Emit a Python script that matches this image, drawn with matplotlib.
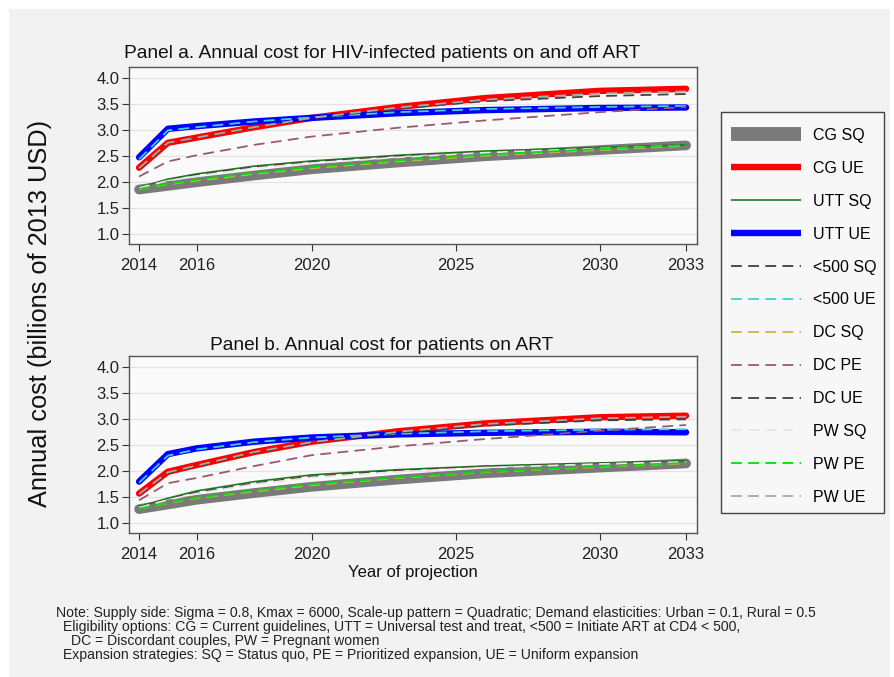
import matplotlib
matplotlib.use("Agg")
import matplotlib.pyplot as plt
from matplotlib.patches import Rectangle
from matplotlib.lines import Line2D

plt.rcParams['font.family'] = ['Liberation Sans', 'DejaVu Sans']

years = [2014, 2015, 2016, 2018, 2020, 2023, 2026, 2030, 2033]
series_names = ["CG SQ", "CG UE", "UTT SQ", "UTT UE", "<500 SQ", "<500 UE",
                "DC SQ", "DC PE", "DC UE", "PW SQ", "PW PE", "PW UE"]

# Panel a: annual cost for HIV-infected patients on and off ART (billions 2013 USD)
panel_a = {
    "CG SQ":   [1.86, 1.93, 2.00, 2.13, 2.25, 2.38, 2.50, 2.62, 2.71],
    "CG UE":   [2.28, 2.76, 2.86, 3.06, 3.24, 3.45, 3.62, 3.76, 3.80],
    "UTT SQ":  [1.90, 2.06, 2.16, 2.31, 2.41, 2.52, 2.60, 2.67, 2.72],
    "UTT UE":  [2.48, 3.03, 3.08, 3.17, 3.24, 3.33, 3.39, 3.43, 3.44],
    "<500 SQ": [1.89, 2.04, 2.14, 2.29, 2.39, 2.50, 2.58, 2.66, 2.71],
    "<500 UE": [2.44, 3.00, 3.06, 3.17, 3.25, 3.35, 3.41, 3.45, 3.47],
    "DC SQ":   [1.87, 1.96, 2.03, 2.16, 2.27, 2.40, 2.51, 2.62, 2.70],
    "DC PE":   [2.11, 2.40, 2.52, 2.72, 2.88, 3.05, 3.19, 3.35, 3.45],
    "DC UE":   [2.25, 2.75, 2.86, 3.06, 3.23, 3.42, 3.56, 3.66, 3.70],
    "PW SQ":   [1.89, 2.03, 2.12, 2.27, 2.37, 2.48, 2.57, 2.65, 2.71],
    "PW PE":   [1.87, 1.97, 2.05, 2.18, 2.29, 2.42, 2.53, 2.64, 2.71],
    "PW UE":   [2.27, 2.76, 2.86, 3.06, 3.24, 3.44, 3.59, 3.71, 3.75],
}

# Panel b: annual cost for patients on ART
panel_b = {
    "CG SQ":   [1.27, 1.36, 1.45, 1.58, 1.70, 1.84, 1.96, 2.07, 2.15],
    "CG UE":   [1.57, 1.99, 2.12, 2.37, 2.57, 2.77, 2.92, 3.04, 3.07],
    "UTT SQ":  [1.32, 1.48, 1.62, 1.80, 1.93, 2.03, 2.10, 2.16, 2.20],
    "UTT UE":  [1.80, 2.33, 2.44, 2.57, 2.65, 2.71, 2.74, 2.76, 2.75],
    "<500 SQ": [1.31, 1.46, 1.59, 1.77, 1.90, 2.01, 2.09, 2.15, 2.19],
    "<500 UE": [1.78, 2.30, 2.42, 2.56, 2.65, 2.72, 2.77, 2.80, 2.81],
    "DC SQ":   [1.28, 1.38, 1.48, 1.61, 1.73, 1.87, 1.98, 2.08, 2.15],
    "DC PE":   [1.44, 1.77, 1.87, 2.10, 2.31, 2.48, 2.62, 2.78, 2.89],
    "DC UE":   [1.55, 1.97, 2.10, 2.36, 2.55, 2.74, 2.88, 2.98, 3.00],
    "PW SQ":   [1.30, 1.45, 1.57, 1.75, 1.88, 1.99, 2.07, 2.14, 2.18],
    "PW PE":   [1.28, 1.39, 1.49, 1.63, 1.75, 1.88, 1.99, 2.09, 2.16],
    "PW UE":   [1.56, 1.98, 2.11, 2.37, 2.56, 2.76, 2.91, 3.02, 3.05],
}

x_ticks = [2014, 2016, 2020, 2025, 2030, 2033]
y_ticks = [1.0, 1.5, 2.0, 2.5, 3.0, 3.5, 4.0]

dash = (0, (6, 3.5))
styles = {
    "CG SQ":   dict(color="#7a7a7a", lw=7.0, ls="-"),
    "CG UE":   dict(color="#ff0000", lw=4.6, ls="-"),
    "UTT SQ":  dict(color="#1f7a1f", lw=1.2, ls="-"),
    "UTT UE":  dict(color="#0000ff", lw=4.6, ls="-"),
    "<500 SQ": dict(color="#4a3a3a", lw=1.3, ls=dash),
    "<500 UE": dict(color="#3fd0d0", lw=1.3, ls=dash),
    "DC SQ":   dict(color="#c8b840", lw=1.3, ls=dash),
    "DC PE":   dict(color="#9a5a6a", lw=1.3, ls=dash),
    "DC UE":   dict(color="#404040", lw=1.3, ls=dash),
    "PW SQ":   dict(color="#e6e6e6", lw=1.3, ls=dash),
    "PW PE":   dict(color="#00e000", lw=1.3, ls=dash),
    "PW UE":   dict(color="#a8a8a8", lw=1.3, ls=dash),
}

W, H = 894, 677
fig = plt.figure(figsize=(W / 100, H / 100), dpi=100)
fig.patch.set_facecolor("white")
fig.patches.append(Rectangle((9 / W, 0), (890 - 9) / W, (677 - 9) / H,
                             transform=fig.transFigure, facecolor="#f2f2f2",
                             edgecolor="none", zorder=-10))

def fx(px):
    return px / W

def fy(py):
    return 1 - py / H

ax_a = fig.add_axes([fx(129), fy(244), fx(697) - fx(129), fy(67) - fy(244)])
ax_b = fig.add_axes([fx(129), fy(533), fx(697) - fx(129), fy(356) - fy(533)])

titles = ["Panel a. Annual cost for HIV-infected patients on and off ART",
          "Panel b. Annual cost for patients on ART"]
title_y = [53, 345]

for ax, data, title, ty in [(ax_a, panel_a, titles[0], title_y[0]),
                            (ax_b, panel_b, titles[1], title_y[1])]:
    ax.set_facecolor("#fafafa")
    for name in series_names:
        st = styles[name]
        ax.plot(years, data[name], color=st["color"], lw=st["lw"],
                linestyle=st["ls"], solid_capstyle="round",
                dash_capstyle="butt")
    ax.set_xlim(2013.65, 2033.38)
    ax.set_ylim(0.81, 4.22)
    ax.set_xticks(x_ticks)
    ax.set_xticklabels([str(t) for t in x_ticks])
    ax.set_yticks(y_ticks)
    ax.set_yticklabels(["%.1f" % t for t in y_ticks])
    ax.tick_params(axis="both", direction="out", length=5, width=0.8,
                   color="#333333", labelsize=12, labelcolor="#222222")
    ax.tick_params(axis="x", pad=5)
    ax.tick_params(axis="y", pad=2)
    ax.grid(axis="y", color="#e4e4e4", lw=0.9)
    ax.set_axisbelow(True)
    for sp in ax.spines.values():
        sp.set_color("#555555")
        sp.set_linewidth(1.0)
    fig.text(fx(382), fy(ty), title, ha="center", va="center",
             fontsize=13.8, color="#111111")

fig.text(fx(413), fy(573), "Year of projection", ha="center", va="center",
         fontsize=12, color="#111111")

fig.text(fx(40), fy(313), "Annual cost (billions of 2013 USD)", rotation=90,
         ha="center", va="center", fontsize=18.3, color="#111111")

# Legend (frame drawn separately)
fig.patches.append(Rectangle((fx(721), fy(513)), fx(884) - fx(721), fy(112) - fy(513),
                             transform=fig.transFigure, facecolor="#f7f7f7",
                             edgecolor="#444444", lw=1.0, zorder=1))
handles = []
for n in series_names:
    st = styles[n]
    h = Line2D([0], [0], color=st["color"],
               lw=10 if n == "CG SQ" else st["lw"], linestyle=st["ls"])
    h.set_solid_capstyle("butt")
    h.set_dash_capstyle("butt")
    handles.append(h)
leg = fig.legend(handles, series_names, loc="upper left",
                 bbox_to_anchor=(fx(731), fy(128)), bbox_transform=fig.transFigure,
                 frameon=False, fontsize=11.5, handlelength=4.38,
                 handletextpad=0.75, labelspacing=1.12, borderpad=0,
                 borderaxespad=0)
leg.set_zorder(2)

notes = [
    (56, 613, "Note: Supply side: Sigma = 0.8, Kmax = 6000, Scale-up pattern = Quadratic; Demand elasticities: Urban = 0.1, Rural = 0.5"),
    (63, 627, "Eligibility options: CG = Current guidelines, UTT = Universal test and treat, <500 = Initiate ART at CD4 < 500,"),
    (71, 641, "DC = Discordant couples, PW = Pregnant women"),
    (63, 655, "Expansion strategies: SQ = Status quo, PE = Prioritized expansion, UE = Uniform expansion"),
]
for x, y, t in notes:
    fig.text(fx(x), fy(y), t, ha="left", va="center", fontsize=10.1,
             color="#222222")

fig.savefig("out.png", dpi=100, facecolor=fig.get_facecolor())
